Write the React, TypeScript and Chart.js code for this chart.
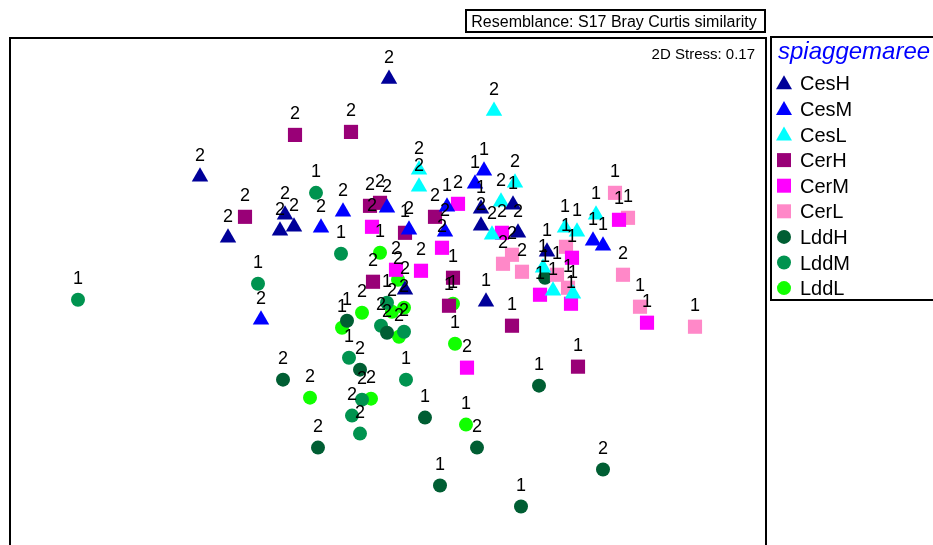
import { useEffect, useRef } from "react";
import { Chart, registerables } from "chart.js";

Chart.register(...registerables);

// [MDS1, MDS2, replicate label]
type Pt = [number, number, string];

const groupNames = ["CesH", "CesM", "CesL", "CerH", "CerM", "CerL", "LddH", "LddM", "LddL"];

const cesH: Pt[] = [
  [0.01, 2.21, "2"], [-1.88, 1.23, "2"], [-1.6, 0.62, "2"], [-1.03, 0.85, "2"], [-1.08, 0.69, "2"],
  [-0.94, 0.73, "2"], [0.93, 0.91, "1"], [0.93, 0.74, "2"], [1.25, 0.95, "1"], [1.3, 0.67, "2"],
  [1.59, 0.48, "1"], [0.17, 0.1, "2"], [0.98, -0.02, "1"],
];
const cesM: Pt[] = [
  [-1.27, -0.2, "2"], [-0.67, 0.72, "2"], [-0.45, 0.88, "2"], [-0.01, 0.92, "2"], [0.21, 0.7, "2"],
  [0.59, 0.93, "1"], [0.57, 0.68, "2"], [0.96, 1.29, "1"], [0.87, 1.16, "1"], [2.05, 0.59, "1"],
  [2.15, 0.54, "1"],
];
const cesL: Pt[] = [
  [1.06, 1.89, "2"], [0.31, 1.3, "2"], [0.31, 1.13, "2"], [1.27, 1.17, "2"], [1.13, 0.98, "2"],
  [1.04, 0.65, "2"], [2.08, 0.85, "1"], [1.89, 0.68, "1"], [1.77, 0.72, "1"], [1.55, 0.32, "1"],
  [1.65, 0.09, "1"], [1.85, 0.06, "1"],
];
const cerH: Pt[] = [
  [-0.93, 1.65, "2"], [-0.37, 1.68, "2"], [-1.43, 0.83, "2"], [-0.18, 0.94, "2"], [-0.08, 0.97, "2"],
  [0.17, 0.67, "1"], [0.47, 0.83, "2"], [-0.15, 0.18, "2"], [0.65, 0.22, "1"], [0.61, -0.06, "1"],
  [1.24, -0.26, "1"], [1.9, -0.67, "1"],
];
const cerM: Pt[] = [
  [-0.16, 0.73, "2"], [0.7, 0.96, "2"], [0.54, 0.52, "2"], [0.08, 0.3, "2"], [0.33, 0.29, "2"],
  [0.79, -0.68, "2"], [1.14, 0.67, "2"], [1.84, 0.42, "1"], [1.52, 0.05, "1"], [1.83, -0.04, "1"],
  [2.31, 0.8, "1"], [2.59, -0.23, "1"],
];
const cerL: Pt[] = [
  [2.27, 1.07, "1"], [2.4, 0.82, "1"], [1.78, 0.53, "1"], [2.35, 0.25, "2"], [2.52, -0.07, "1"],
  [3.07, -0.27, "1"], [1.24, 0.45, "2"], [1.15, 0.36, "2"], [1.34, 0.28, "2"], [1.69, 0.25, "1"],
  [1.8, 0.12, "1"],
];
const lddH: Pt[] = [
  [1.57, 0.22, "1"], [-0.41, -0.21, "1"], [-0.01, -0.33, "2"], [-0.28, -0.7, "2"], [-1.05, -0.8, "2"],
  [-0.7, -1.48, "2"], [0.37, -1.18, "1"], [1.51, -0.86, "1"], [0.89, -1.48, "2"], [0.52, -1.86, "1"],
  [2.15, -1.7, "2"], [1.33, -2.07, "1"],
];
const lddM: Pt[] = [
  [-3.1, 0.0, "1"], [-0.72, 1.07, "1"], [-1.3, 0.16, "1"], [-0.47, 0.46, "1"], [-0.01, -0.03, "1"],
  [-0.07, -0.26, "2"], [0.16, -0.32, "2"], [-0.39, -0.58, "1"], [-0.26, -1.0, "2"], [-0.36, -1.16, "2"],
  [-0.28, -1.34, "2"], [0.18, -0.8, "1"],
];
const lddL: Pt[] = [
  [-0.08, 0.47, "1"], [0.1, 0.2, "2"], [-0.26, -0.13, "2"], [-0.46, -0.28, "1"], [0.04, -0.12, "2"],
  [0.16, -0.08, "2"], [0.11, -0.37, "2"], [0.65, -0.04, "1"], [0.67, -0.44, "1"], [-0.78, -0.98, "2"],
  [-0.17, -0.99, "2"], [0.78, -1.25, "1"],
];

const groupData = [cesH, cesM, cesL, cerH, cerM, cerL, lddH, lddM, lddL];
const groupColors = ["#000099", "#0000FF", "#00FFFF", "#990077", "#FF00FF", "#FF88C8", "#005E33", "#00934F", "#11FF00"];
const groupShapes = ["triangle", "triangle", "triangle", "rect", "rect", "rect", "circle", "circle", "circle"];

const titleText = "Resemblance: S17 Bray Curtis similarity";
const stressText = "2D Stress: 0.17";
const legendTitle = "spiaggemaree";

const FONT = '"Liberation Sans", Arial, sans-serif';

function markerRadius(shape: string) {
  if (shape === "triangle") return 9.5;
  if (shape === "rect") return 10;
  return 7;
}

function drawMarker(ctx: CanvasRenderingContext2D, shape: string, x: number, y: number, color: string) {
  ctx.fillStyle = color;
  ctx.beginPath();
  if (shape === "triangle") {
    ctx.moveTo(x, y - 8);
    ctx.lineTo(x + 8, y + 6);
    ctx.lineTo(x - 8, y + 6);
    ctx.closePath();
  } else if (shape === "rect") {
    ctx.rect(x - 7, y - 7, 14, 14);
  } else {
    ctx.arc(x, y, 7, 0, Math.PI * 2);
  }
  ctx.fill();
}

const overlay = {
  id: "overlay",
  afterDatasetsDraw(chart: any) {
    const ctx: CanvasRenderingContext2D = chart.ctx;
    const area = chart.chartArea;
    ctx.save();
    // replicate labels
    ctx.font = `18px ${FONT}`;
    ctx.fillStyle = "#000";
    ctx.textAlign = "center";
    ctx.textBaseline = "alphabetic";
    chart.data.datasets.forEach((ds: any, i: number) => {
      const meta = chart.getDatasetMeta(i);
      meta.data.forEach((el: any, j: number) => {
        const rep = ds.data[j].rep;
        ctx.fillText(rep, el.x, el.y - 15.5);
      });
    });

    // plot frame
    ctx.strokeStyle = "#000";
    ctx.lineWidth = 2;
    ctx.strokeRect(area.left, area.top, area.right - area.left, 600);

    // resemblance box
    ctx.strokeRect(466, 10, 299, 22);
    ctx.font = `16px ${FONT}`;
    ctx.textAlign = "center";
    ctx.fillText(titleText, 614, 27);

    // stress
    ctx.font = `15px ${FONT}`;
    ctx.textAlign = "right";
    ctx.fillText(stressText, 755, 59);

    // legend box
    ctx.strokeRect(771, 37, 200, 263);
    ctx.textAlign = "left";
    ctx.font = `italic 24px ${FONT}`;
    ctx.fillStyle = "#0000FF";
    ctx.fillText(legendTitle, 778, 59);
    ctx.font = `20px ${FONT}`;
    chart.data.datasets.forEach((ds: any, i: number) => {
      const cy = 83.3 + 25.6 * i;
      drawMarker(ctx, groupShapes[i], 784, cy, groupColors[i]);
      ctx.fillStyle = "#000";
      ctx.fillText(ds.label, 800, cy + 7);
    });
    ctx.restore();
  },
};

export default function App() {
  const ref = useRef<HTMLCanvasElement>(null);
  useEffect(() => {
    if (!ref.current) return;
    const datasets = groupNames.map((name, i) => ({
      label: name,
      data: groupData[i].map(([x, y, rep]) => ({ x, y, rep })),
      pointStyle: groupShapes[i],
      pointRadius: markerRadius(groupShapes[i]),
      pointHoverRadius: markerRadius(groupShapes[i]),
      backgroundColor: groupColors[i],
      borderColor: groupColors[i],
      borderWidth: 0,
      showLine: false,
    }));
    const chart = new Chart(ref.current, {
      type: "scatter",
      data: { datasets } as any,
      options: {
        animation: false,
        responsive: false,
        devicePixelRatio: 1,
        layout: { padding: { left: 10, top: 38, right: 167, bottom: 0 } },
        scales: {
          x: { type: "linear", min: -3.78, max: 3.78, display: false },
          y: { type: "linear", min: -2.355, max: 2.62, display: false },
        },
        plugins: { legend: { display: false }, tooltip: { enabled: false } },
        events: [],
      } as any,
      plugins: [overlay],
    });
    return () => chart.destroy();
  }, []);
  return (
    <div style={{ position: "absolute", left: 0, top: 0, width: 933, height: 545, overflow: "hidden", background: "#fff" }}>
      <canvas ref={ref} width={933} height={545} style={{ width: 933, height: 545, display: "block" }} />
    </div>
  );
}
